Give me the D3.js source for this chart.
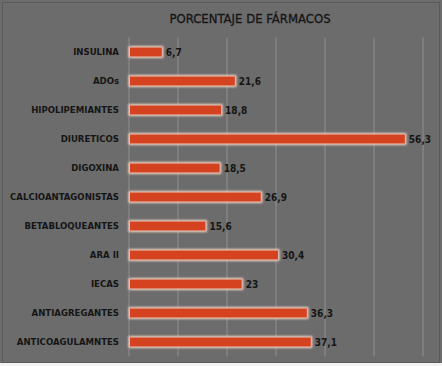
<!DOCTYPE html>
<html>
<head>
<meta charset="utf-8">
<script src="https://cdn.jsdelivr.net/npm/d3@7"></script>
<style>
  html, body { margin: 0; padding: 0; background: #fff; }
  svg { display: block; }
</style>
</head>
<body>
<svg id="chart"></svg>
<script>
// categories top to bottom, values in percent
const farmacos = ["INSULINA", "ADOs", "HIPOLIPEMIANTES", "DIURETICOS", "DIGOXINA", "CALCIOANTAGONISTAS",
  "BETABLOQUEANTES", "ARA II", "IECAS", "ANTIAGREGANTES", "ANTICOAGULAMNTES"];
const porcentajes = [6.7, 21.6, 18.8, 56.3, 18.5, 26.9, 15.6, 30.4, 23, 36.3, 37.1];
const ticks = [0, 10, 20, 30, 40, 50, 60];

const W = 442, H = 366;
const margin = { top: 37.5, right: 19, bottom: 9.5, left: 129 };

const svg = d3.select("#chart")
    .attr("width", W)
    .attr("height", H);

// background + frame
svg.append("rect")
    .attr("x", 0).attr("y", 0)
    .attr("width", W).attr("height", H)
    .attr("fill", "#6c6c6c");
svg.append("rect")
    .attr("x", 2.5).attr("y", 2.5)
    .attr("width", W - 5).attr("height", H - 6)
    .attr("fill", "none")
    .attr("stroke", "#5a5a5a")
    .attr("stroke-width", 1);
svg.append("rect")
    .attr("x", 0).attr("y", H - 3)
    .attr("width", W).attr("height", 3)
    .attr("fill", "#f2f2f2");

const defs = svg.append("defs");
const glow = defs.append("filter").attr("id", "glow")
    .attr("x", "-10%").attr("y", "-50%").attr("width", "120%").attr("height", "200%");
glow.append("feGaussianBlur").attr("stdDeviation", 0.8);

const x = d3.scaleLinear()
    .domain([0, 60])
    .range([margin.left, W - margin.right]);

const y = d3.scaleBand()
    .domain(farmacos)
    .range([margin.top, H - margin.bottom])
    .paddingInner(0.69)
    .paddingOuter(0.345);

// gridlines
svg.append("g")
    .selectAll("line")
    .data(ticks)
    .join("line")
    .attr("x1", d => x(d)).attr("x2", d => x(d))
    .attr("y1", margin.top).attr("y2", H - margin.bottom)
    .attr("stroke", "#8f8f8f")
    .attr("stroke-width", 1);

// title
svg.append("text")
    .attr("x", 250)
    .attr("y", 23)
    .attr("text-anchor", "middle")
    .style("font-family", "'DejaVu Sans Condensed', 'DejaVu Sans', sans-serif")
    .style("font-size", "13px")
    .style("stroke", "#151515")
    .style("stroke-width", 0.3)
    .attr("fill", "#151515")
    .text("PORCENTAJE DE FÁRMACOS");

// category labels
svg.append("g")
    .selectAll("text")
    .data(farmacos)
    .join("text")
    .attr("x", margin.left - 10)
    .attr("y", d => y(d) + y.bandwidth() / 2)
    .attr("dy", "0.35em")
    .attr("text-anchor", "end")
    .style("font-family", "'DejaVu Sans Condensed', 'DejaVu Sans', sans-serif")
    .style("font-weight", "bold")
    .style("font-size", "9.5px")
    .attr("fill", "#151515")
    .text(d => d);

// bars: pale glow underneath, red bar on top
const bars = svg.append("g");
bars.selectAll("rect.halo")
    .data(porcentajes)
    .join("rect")
    .attr("class", "halo")
    .attr("x", x(0) - 0.5)
    .attr("y", (d, i) => y(farmacos[i]) - 1.5)
    .attr("width", d => x(d) - x(0) + 2)
    .attr("height", y.bandwidth() + 3)
    .attr("fill", "#f5d2c2")
    .attr("filter", "url(#glow)");
bars.selectAll("rect.bar")
    .data(porcentajes)
    .join("rect")
    .attr("class", "bar")
    .attr("x", x(0) + 1)
    .attr("y", (d, i) => y(farmacos[i]))
    .attr("width", d => x(d) - x(0) - 1)
    .attr("height", y.bandwidth())
    .attr("fill", "#d5421f");

// value labels
svg.append("g")
    .selectAll("text")
    .data(porcentajes)
    .join("text")
    .attr("x", d => x(d) + 4)
    .attr("y", (d, i) => y(farmacos[i]) + y.bandwidth() / 2)
    .attr("dy", "0.35em")
    .style("font-family", "'DejaVu Sans Condensed', 'DejaVu Sans', sans-serif")
    .style("font-weight", "bold")
    .style("font-size", "10px")
    .attr("fill", "#151515")
    .text(d => String(d).replace(".", ","));
</script>
</body>
</html>
